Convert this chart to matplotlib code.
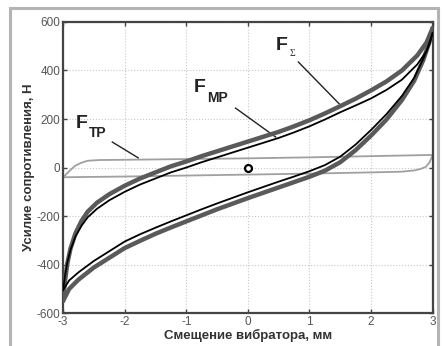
import numpy as np
import matplotlib
matplotlib.use("Agg")
import matplotlib.pyplot as plt
from matplotlib.patches import Rectangle

plt.rcParams['axes.unicode_minus'] = False

# curve points (x in mm, force in N)
x_up = [-3.0, -2.97, -2.93, -2.88, -2.8, -2.7, -2.6, -2.45, -2.25, -2.0, -1.75,
        -1.5, -1.25, -1.0, -0.75, -0.5, -0.25, 0.0, 0.25, 0.5, 0.75, 1.0, 1.25,
        1.5, 1.75, 2.0, 2.25, 2.5, 2.75, 2.9, 3.0]
sum_up = [-550, -470, -395, -335, -272, -220, -182, -145, -110, -75, -45,
          -20, 5, 25, 47, 67, 87, 107, 127, 147, 170, 195, 223,
          253, 284, 318, 355, 400, 462, 515, 575]
mp_up = [-505, -450, -390, -340, -285, -240, -205, -170, -135, -100, -70,
         -45, -20, 0, 22, 42, 62, 82, 102, 122, 145, 170, 198,
         228, 256, 285, 320, 362, 425, 480, 555]

x_lo = [-3.0, -2.9, -2.75, -2.5, -2.25, -2.0, -1.75, -1.5, -1.25, -1.0, -0.75,
        -0.5, -0.25, 0.0, 0.25, 0.5, 0.75, 1.0, 1.25, 1.5, 1.75, 2.0, 2.25,
        2.5, 2.7, 2.85, 2.95, 3.0]
sum_lo = [-550, -500, -462, -412, -372, -332, -302, -273, -247, -222, -197,
          -172, -149, -126, -104, -82, -60, -38, -13, 22, 72, 132, 198,
          278, 358, 445, 520, 575]
mp_lo = [-505, -465, -432, -385, -345, -305, -275, -248, -222, -197, -172,
         -148, -125, -102, -80, -58, -37, -15, 10, 45, 95, 155, 220,
         295, 370, 450, 510, 555]

# friction loop
x_tp_up = [-3.0, -2.95, -2.9, -2.8, -2.7, -2.6, -2.4, -2.0, -1.0, 0.0, 1.0, 2.0, 3.0]
tp_up = [-40, -28, -15, 8, 20, 28, 31, 32, 35, 38, 42, 47, 52]
x_tp_lo = [-3.0, -2.0, -1.0, 0.0, 1.0, 2.0, 2.5, 2.7, 2.8, 2.89, 2.95, 3.0]
tp_lo = [-40, -37, -33, -29, -25, -20, -17, -12, -6, 3, 22, 52]

xticks = [-3, -2, -1, 0, 1, 2, 3]
yticks = [-600, -400, -200, 0, 200, 400, 600]

fig = plt.figure(figsize=(4.44, 3.46), dpi=100)
ax = fig.add_axes([0.142, 0.095, 0.8325, 0.8415])

# outer grey frame of the figure
fig.patches.append(Rectangle((10 / 444, -0.05), 428 / 444, 1 - 8 / 346 + 0.05,
                             transform=fig.transFigure, fill=False,
                             edgecolor='#b4b4b4', linewidth=2.2, clip_on=False))

ax.plot(x_tp_up, tp_up, color='#a0a0a0', lw=1.3, zorder=2)
ax.plot(x_tp_lo, tp_lo, color='#a0a0a0', lw=1.3, zorder=2)
ax.plot(x_up, sum_up, color='#5a5a5a', lw=3.2, solid_capstyle='round', zorder=3)
ax.plot(x_lo, sum_lo, color='#5a5a5a', lw=3.2, solid_capstyle='round', zorder=3)
ax.plot(x_up, mp_up, color='black', lw=1.3, zorder=4)
ax.plot(x_lo, mp_lo, color='black', lw=1.3, zorder=4)
ax.plot([0], [0], 'o', ms=5, mfc='white', mec='black', mew=1.6, zorder=5)

ax.set_xlim(-3, 3)
ax.set_ylim(-600, 600)
ax.set_xticks(xticks)
ax.set_yticks(yticks)
ax.grid(True, color='#c8c8c8', linestyle=':', linewidth=0.8)
ax.tick_params(direction='in', top=True, right=True, length=3, width=1,
               color='#444444', labelsize=8.5, labelcolor='#555555', pad=2)
for s in ax.spines.values():
    s.set_linewidth(1.6)
    s.set_color('#444444')

ax.set_xlabel('Смещение вибратора, мм', fontsize=9.5, fontweight='bold',
              color='#333333', labelpad=1, family='Liberation Sans')
ax.set_ylabel('Усилие сопротивления, Н', fontsize=9.5, fontweight='bold',
              color='#333333', labelpad=1, family='Liberation Sans')
for lab in ax.get_xticklabels() + ax.get_yticklabels():
    lab.set_family('Liberation Sans')

# annotations
ax.text(0.45, 485, 'F', fontsize=14, fontweight='bold', family='Liberation Sans', color='#222222')
ax.text(0.67, 458, 'Σ', fontsize=7, family='Liberation Serif', color='#333333')
ax.plot([0.82, 1.5], [435, 258], color='#222222', lw=1)

ax.text(-0.88, 311, 'F', fontsize=14, fontweight='bold', family='Liberation Sans', color='#222222')
ax.text(-0.66, 270, 'MP', fontsize=10, fontweight='bold', family='Liberation Sans', color='#222222')
ax.plot([-0.2, 0.45], [245, 126], color='#222222', lw=1)

ax.text(-2.79, 163, 'F', fontsize=14, fontweight='bold', family='Liberation Sans', color='#222222')
ax.text(-2.58, 126, 'TP', fontsize=10, fontweight='bold', family='Liberation Sans', color='#222222')
ax.plot([-2.2, -1.78], [105, 40], color='#222222', lw=1)

fig.savefig('out.png', dpi=100)
